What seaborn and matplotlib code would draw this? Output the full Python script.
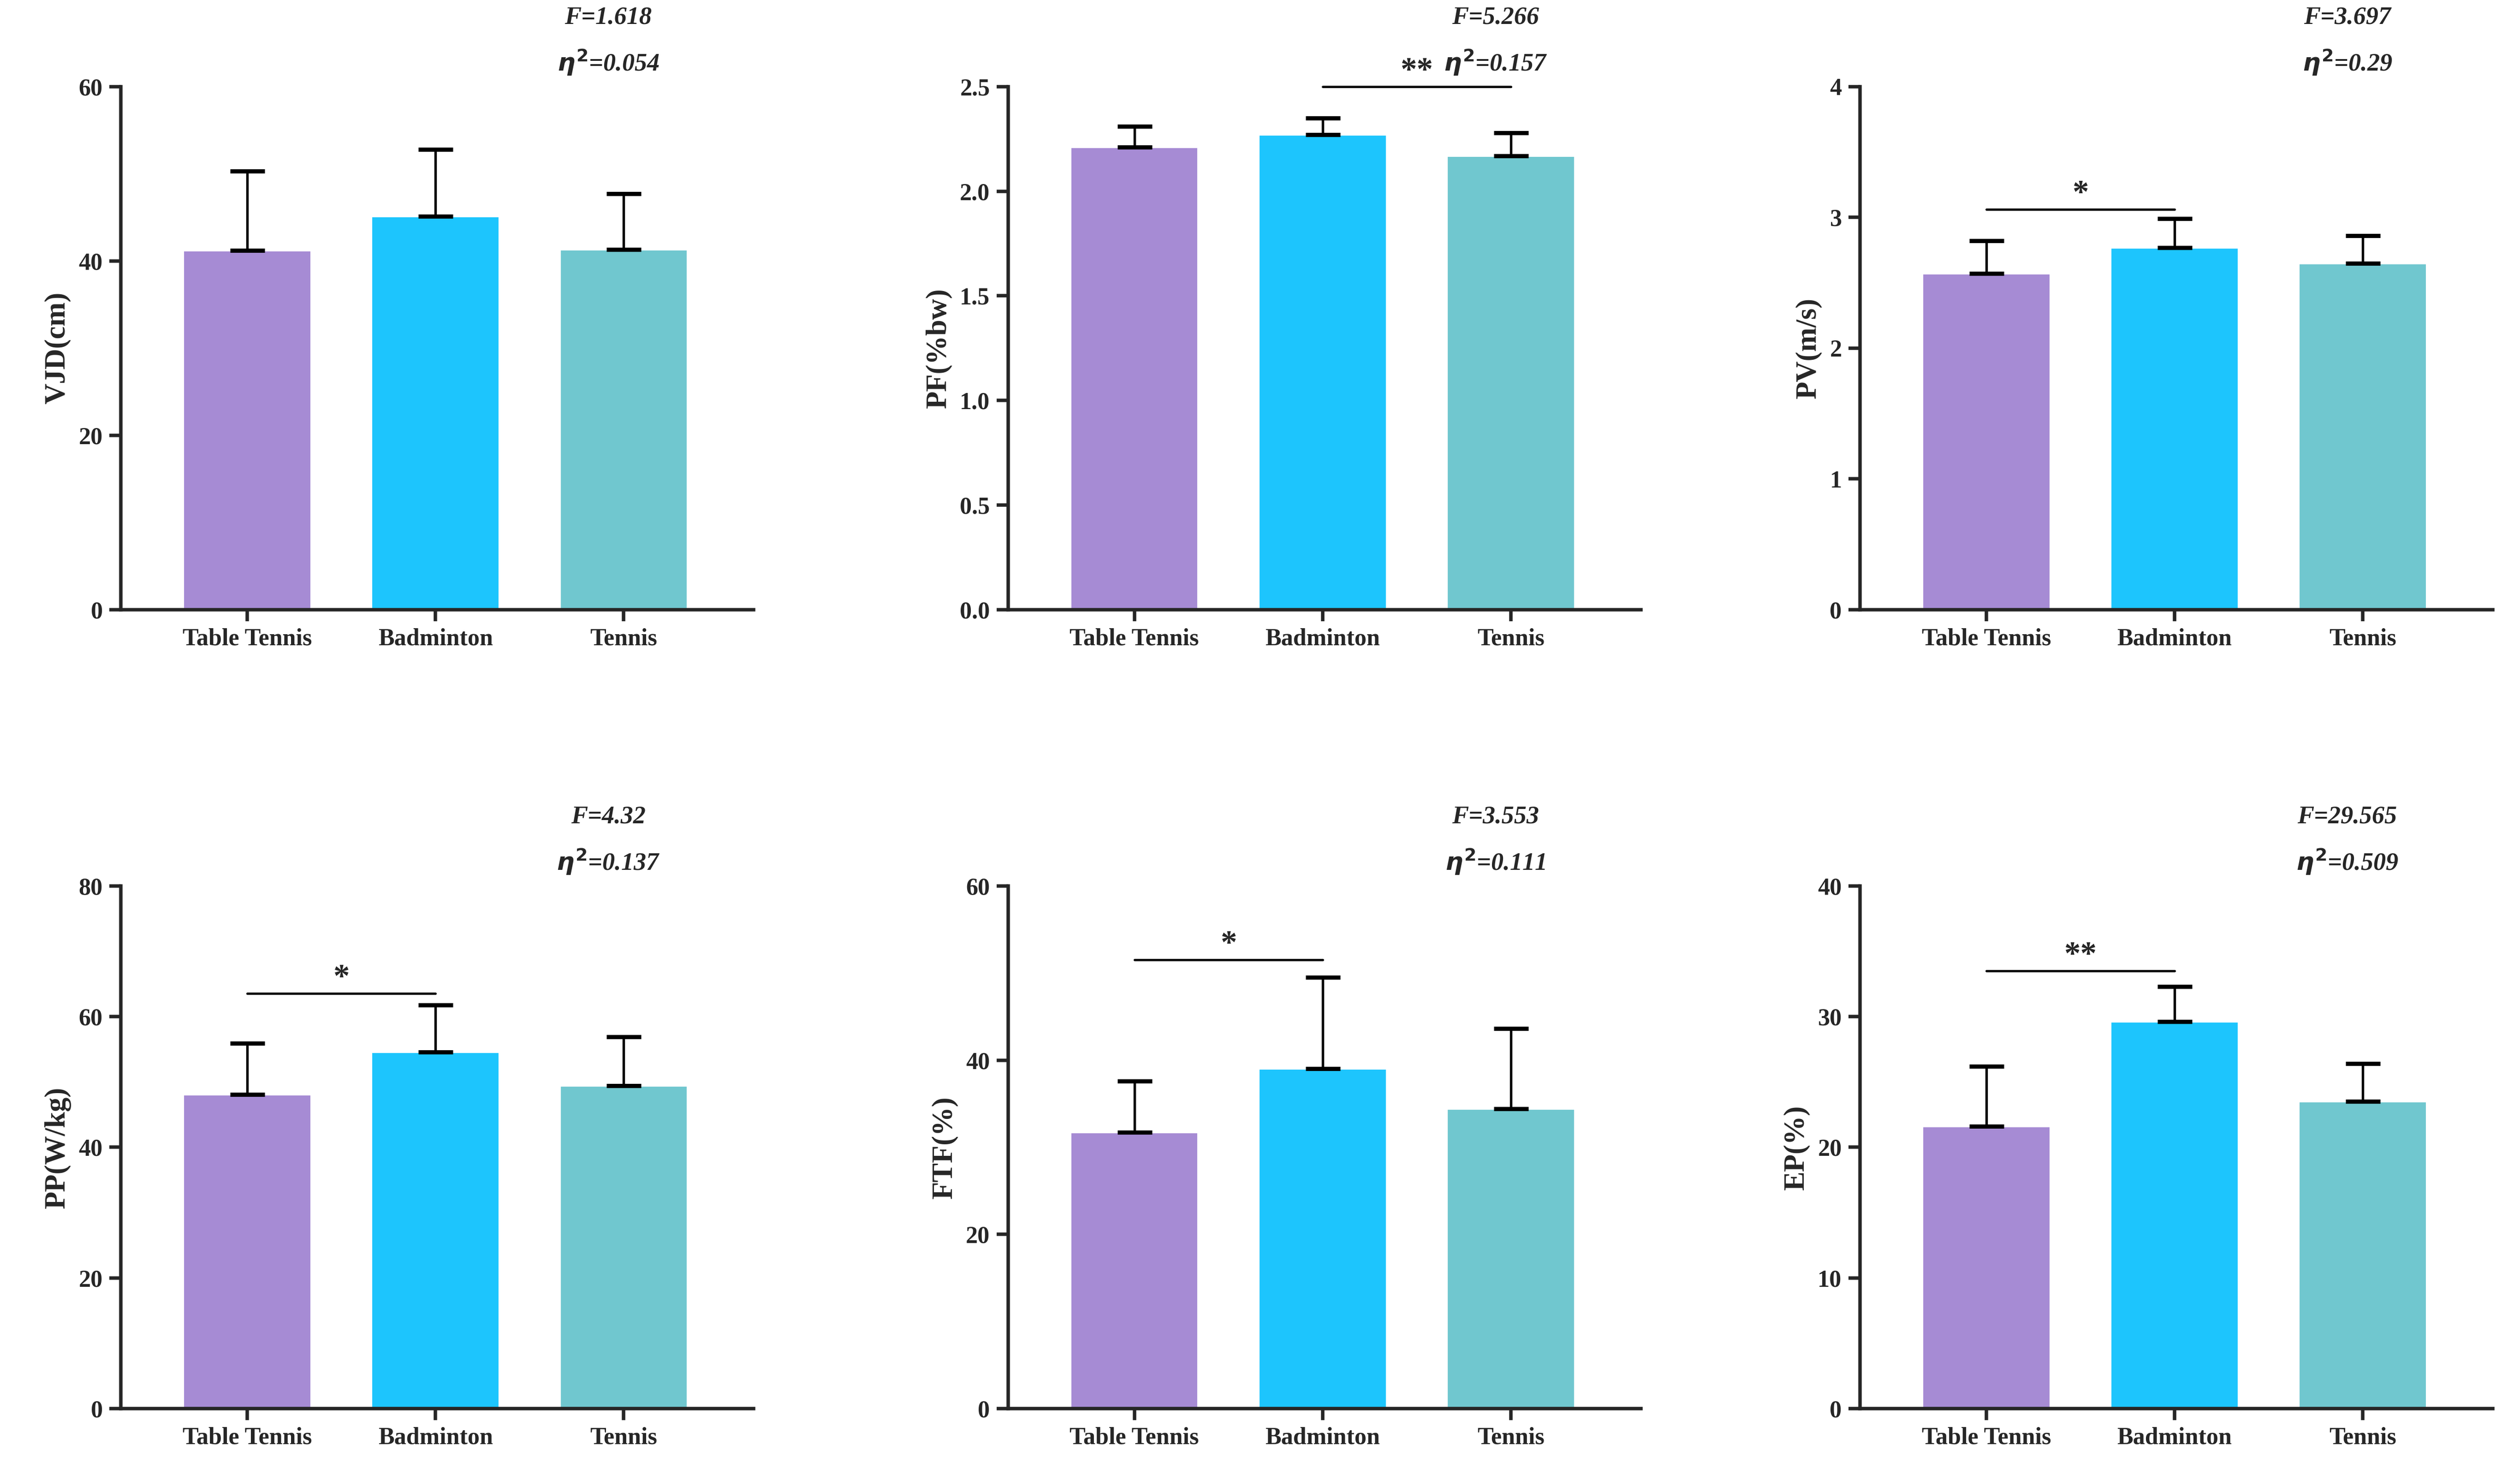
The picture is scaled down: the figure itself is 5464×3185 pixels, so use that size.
import numpy as np
import pandas as pd
import matplotlib
matplotlib.use("Agg")
import matplotlib.pyplot as plt
import seaborn as sns

groups = ["Table Tennis", "Badminton", "Tennis"]
colors = ["#A68BD4", "#1DC5FD", "#70C7CF"]

ylabels = ["VJD(cm)", "PF(%bw)", "PV(m/s)", "PP(W/kg)", "FTF(%)", "EP(%)"]
means = [[41.2, 45.1, 41.3], [2.21, 2.27, 2.17], [2.57, 2.77, 2.65],
         [48.1, 54.6, 49.4], [31.7, 39.0, 34.4], [21.6, 29.6, 23.5]]
sds = [[9.1, 7.7, 6.4], [0.10, 0.08, 0.11], [0.25, 0.22, 0.21],
       [7.8, 7.2, 7.5], [5.9, 10.5, 9.2], [4.6, 2.7, 2.9]]
ylims = [60, 2.5, 4, 80, 60, 40]
ysteps = [20, 0.5, 1, 20, 20, 10]
f_vals = ["1.618", "5.266", "3.697", "4.32", "3.553", "29.565"]
eta_vals = ["0.054", "0.157", "0.29", "0.137", "0.111", "0.509"]
# significance: (from, to, y, label)
sig = [None, (1, 2, 2.50, "**"), (0, 1, 3.06, "*"),
       (0, 1, 63.5, "*"), (0, 1, 51.5, "*"), (0, 1, 33.5, "**")]

sns.set_theme(style="ticks")
plt.rcParams["font.family"] = ["Liberation Serif", "DejaVu Serif"]
plt.rcParams["font.weight"] = "bold"

fig = plt.figure(figsize=(5465 / 300, 3185 / 300), dpi=300)
lefts = [0.048, 0.400, 0.738]
bottoms = [0.585, 0.041]

for i in range(6):
    ax = fig.add_axes([lefts[i % 3], bottoms[i // 3], 0.251, 0.356])
    df = pd.DataFrame({"group": groups, "val": means[i]})
    sns.barplot(data=df, x="group", y="val", hue="group", palette=colors,
                width=0.68, errorbar=None, legend=False, ax=ax, saturation=1)
    ax.errorbar(range(3), means[i], yerr=[np.zeros(3), sds[i]], fmt="none",
                ecolor="black", elinewidth=1.3, capsize=9, capthick=2.2)
    ax.set_xlim(-0.67, 2.69)
    ax.set_ylim(0, ylims[i])
    ax.set_yticks(np.arange(0, ylims[i] + 1e-9, ysteps[i]))
    if ysteps[i] < 1:
        ax.set_yticklabels([f"{t:.1f}" for t in ax.get_yticks()])
    ax.set_xlabel("")
    ax.set_ylabel(ylabels[i], fontsize=15, fontweight="bold")
    ax.tick_params(labelsize=12.5, width=1.8, length=6)
    for lab in ax.get_xticklabels() + ax.get_yticklabels():
        lab.set_fontweight("bold")
    for s in ["left", "bottom"]:
        ax.spines[s].set_linewidth(1.8)
    sns.despine(ax=ax)
    ax.text(0.77, 1.12, f"F={f_vals[i]}", transform=ax.transAxes, ha="center",
            fontsize=13, fontstyle="italic", fontweight="bold", clip_on=False)
    ax.text(0.77, 1.03, f"$\\eta^2$={eta_vals[i]}", transform=ax.transAxes,
            ha="center", fontsize=13, fontstyle="italic", fontweight="bold",
            clip_on=False)
    if sig[i]:
        a, b, y, lab = sig[i]
        ax.plot([a, b], [y, y], color="black", lw=1.2, clip_on=False)
        ax.text((a + b) / 2, y, lab, ha="center", va="bottom", fontsize=17,
                fontweight="bold", clip_on=False)

fig.savefig("out.png", dpi=300)
